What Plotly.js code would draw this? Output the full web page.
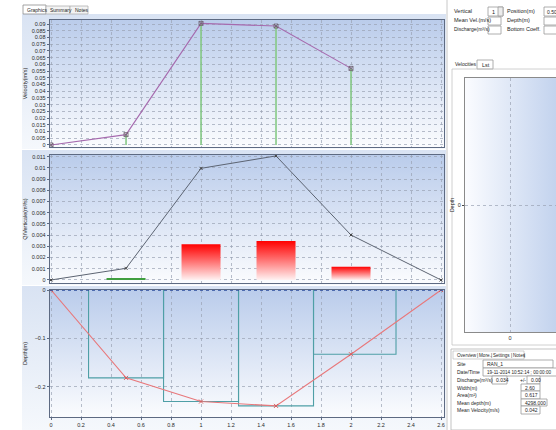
<!DOCTYPE html>
<html>
<head>
<meta charset="utf-8">
<script src="https://cdn.plot.ly/plotly-3.0.1.min.js"></script>
<style>
  html, body { margin: 0; padding: 0; background: #ffffff; }
  #gauging { width: 556px; height: 430px; }
</style>
</head>
<body>
<div id="gauging"></div>
<script>
// Cross-section stations (m) along the gauging line
const stations = [0, 0.5, 1.0, 1.5, 2.0, 2.6];
// Mean velocity at each vertical (m/s); the last vertical (bank) has no velocity reading
const velStations = [0, 0.5, 1.0, 1.5, 2.0];
const meanVelocity = [0, 0.0077, 0.0905, 0.0885, 0.057];
// Discharge per vertical (m³/s)
const verticalQ = [0, 0.00104, 0.00996, 0.01107, 0.00401, 0];
// Partial discharge of each panel (m³/s), centred on its vertical
const panelCentre = [0.5, 1.0, 1.5, 2.0];
const panelQ = [0.00018, 0.00318, 0.00348, 0.00119];
const panelColour = ['green', 'red', 'red', 'red'];
// Bed profile (m, negative downward)
const depth = [0, -0.182, -0.231, -0.240, -0.133, 0];
// Panel limits used for the mid-section computation
const panelLeft = [0.25, 0.75, 1.25, 1.75];
const panelRight = [0.75, 1.25, 1.75, 2.3];
const panelDepth = [-0.182, -0.231, -0.240, -0.133];
// Summary figures
const summaryLabels = ['Site', 'Date/Time', 'Discharge(m³/s)', 'Width(m)', 'Area(m²)', 'Mean depth(m)', 'Mean Velocity(m/s)'];
const summaryValues = ['RAN_1', '19-11-2014 10:52:14 ; 00:00:00', '0.034', '2.60', '0.617', '4298.000', '0.042'];
const dischargeUncertainty = '0.00';
const xTicks = [0, 0.2, 0.4, 0.6, 0.8, 1, 1.2, 1.4, 1.6, 1.8, 2, 2.2, 2.4, 2.6];

const W = 556, H = 430;
const fx = p => p / W;
const fy = p => 1 - p / H;
const FONT = 'Liberation Sans, Arial, sans-serif';
const UI_FONT = 'Liberation Sans Narrow, Liberation Sans, Arial, sans-serif';

// vertical gradient (top colour -> bottom colour) or horizontal (left -> right)
function gradient(c1, c2, horizontal) {
  const g = horizontal ? 'x1="0" y1="0" x2="1" y2="0"' : 'x1="0" y1="0" x2="0" y2="1"';
  const svg = '<svg xmlns="http://www.w3.org/2000/svg" width="100" height="100" viewBox="0 0 100 100" preserveAspectRatio="none">' +
    '<defs><linearGradient id="g" ' + g + '><stop offset="0" stop-color="' + c1 + '"/><stop offset="1" stop-color="' + c2 + '"/></linearGradient></defs>' +
    '<rect width="100" height="100" fill="url(#g)"/></svg>';
  return 'data:image/svg+xml;charset=utf-8,' + encodeURIComponent(svg);
}
function bgImage(x0, y0, x1, y1, c1, c2, horizontal) {
  return { source: gradient(c1, c2, horizontal), xref: 'paper', yref: 'paper',
    x: fx(x0), y: fy(y0), sizex: (x1 - x0) / W, sizey: (y1 - y0) / H,
    xanchor: 'left', yanchor: 'top', sizing: 'stretch', layer: 'below' };
}
function label(text, x, y, opts) {
  opts = opts || {};
  return { text: text, xref: 'paper', yref: 'paper', x: fx(x), y: fy(y),
    xanchor: opts.anchor || 'left', yanchor: 'middle', showarrow: false,
    font: { family: UI_FONT, size: opts.size || 5.5, color: opts.color || '#1e1e1e' } };
}
function box(x0, y0, x1, y1, fill, line) {
  return { type: 'rect', xref: 'paper', yref: 'paper', x0: fx(x0), x1: fx(x1), y0: fy(y0), y1: fy(y1),
    fillcolor: fill || '#ffffff', line: { color: line || '#9a9a9a', width: 0.8 }, layer: 'below' };
}

// plot-area pixel rectangles
const P1 = [50, 20, 444, 147];
const P2 = [50, 155, 444, 283];
const P3 = [50, 290, 444, 417];
const P4 = [465, 78, 556, 332];
const dom = p => ({ x: [fx(p[0]), fx(p[2])], y: [fy(p[3]), fy(p[1])] });

const traces = [];

// --- velocity panel ---
const gx = [], gy = [];
velStations.forEach((s, i) => { gx.push(s, s, null); gy.push(0, meanVelocity[i], null); });
traces.push({ x: gx, y: gy, mode: 'lines', line: { color: '#86c986', width: 1.6 }, xaxis: 'x', yaxis: 'y', hoverinfo: 'skip' });
traces.push({ x: velStations, y: meanVelocity, mode: 'lines+markers', xaxis: 'x', yaxis: 'y',
  line: { color: '#a66aae', width: 1.1 },
  marker: { symbol: 'square-x-open', size: 4, color: '#6a5a6a', line: { width: 0.8 } } });

// --- discharge panel: partial discharge bars ---
const halfW = 0.13;
panelCentre.forEach((c, i) => {
  const t = { x: [c - halfW, c - halfW, c + halfW, c + halfW, c - halfW],
    y: [0, panelQ[i], panelQ[i], 0, 0], mode: 'lines', fill: 'toself',
    line: { width: 0, color: 'rgba(0,0,0,0)' }, xaxis: 'x2', yaxis: 'y2', hoverinfo: 'skip' };
  if (panelColour[i] === 'red') {
    t.fillgradient = { type: 'vertical', colorscale: [[0, '#fff2f2'], [0.55, '#ff6a6a'], [1, '#ff0000']] };
  } else {
    t.fillcolor = '#3f9e3f';
  }
  traces.push(t);
});
traces.push({ x: stations, y: verticalQ, mode: 'lines+markers', xaxis: 'x2', yaxis: 'y2',
  line: { color: '#5c6472', width: 1 },
  marker: { symbol: 'x-thin-open', size: 3, color: '#444', line: { width: 1, color: '#444' } } });

// --- cross-section panel ---
const px = [], py = [];
panelLeft.forEach((l, i) => {
  px.push(l, l, panelRight[i], panelRight[i], null);
  py.push(0, panelDepth[i], panelDepth[i], 0, null);
});
traces.push({ x: px, y: py, mode: 'lines', xaxis: 'x3', yaxis: 'y3', line: { color: '#4f9fa6', width: 1.1 }, hoverinfo: 'skip' });
traces.push({ x: stations, y: depth, mode: 'lines+markers', xaxis: 'x3', yaxis: 'y3',
  line: { color: '#e8777a', width: 1.1 },
  marker: { symbol: 'x-thin-open', size: 4, color: '#d85a5a', line: { width: 1, color: '#d85a5a' } } });

// --- velocity profile box (empty) ---
traces.push({ x: [0], y: [0], mode: 'markers', marker: { size: 0.1, color: 'rgba(0,0,0,0)' }, xaxis: 'x4', yaxis: 'y4', hoverinfo: 'skip' });

const XR = [-0.007, 2.62];
const tickFont = { family: FONT, size: 5.5, color: '#2a2a2a' };
const titleFont = { family: FONT, size: 5.5, color: '#2a2a2a' };
const frame = { showline: true, mirror: true, linecolor: '#5d6a82', linewidth: 1.4, zeroline: false,
  showgrid: true, gridcolor: '#9aa3b3', griddash: 'dot', gridwidth: 0.7, tickfont: tickFont, fixedrange: true };

const d1 = dom(P1), d2 = dom(P2), d3 = dom(P3), d4 = dom(P4);
const layout = {
  width: W, height: H, margin: { l: 0, r: 0, t: 0, b: 0 },
  paper_bgcolor: '#ffffff', plot_bgcolor: 'rgba(0,0,0,0)', showlegend: false,
  font: { family: FONT },
  xaxis: Object.assign({}, frame, { domain: d1.x, range: XR, tickvals: xTicks, showticklabels: false, anchor: 'y' }),
  yaxis: Object.assign({}, frame, { domain: d1.y, range: [-0.0015, 0.093], dtick: 0.005, tick0: 0, ticks: 'outside', ticklen: 2, tickcolor: '#5d6a82', anchor: 'x',
    title: { text: 'Velocity(m/s)', font: titleFont, standoff: 4 } }),
  xaxis2: Object.assign({}, frame, { domain: d2.x, range: XR, tickvals: xTicks, showticklabels: false, anchor: 'y2' }),
  yaxis2: Object.assign({}, frame, { domain: d2.y, range: [-0.00027, 0.01115], dtick: 0.001, tick0: 0, ticks: 'outside', ticklen: 2, tickcolor: '#5d6a82', anchor: 'x2',
    title: { text: 'Q/Verticale(m³/s)', font: titleFont, standoff: 4 } }),
  xaxis3: Object.assign({}, frame, { domain: d3.x, range: XR, tickvals: xTicks, ticks: 'outside', ticklen: 2, tickcolor: '#5d6a82', anchor: 'y3' }),
  yaxis3: Object.assign({}, frame, { domain: d3.y, range: [-0.263, 0], dtick: 0.1, tick0: 0, ticks: 'outside', ticklen: 2, tickcolor: '#5d6a82', anchor: 'x3',
    title: { text: 'Depth(m)', font: titleFont, standoff: 6 } }),
  xaxis4: Object.assign({}, frame, { domain: d4.x, range: [-1, 1.02], tickvals: [0], linecolor: '#8a8a8a', linewidth: 1, anchor: 'y4' }),
  yaxis4: Object.assign({}, frame, { domain: d4.y, range: [-1, 1], tickvals: [0], linecolor: '#8a8a8a', linewidth: 1, anchor: 'x4',
    ticks: 'outside', ticklen: 2, title: { text: 'Depth', font: titleFont, standoff: 2 } }),
  images: [
    bgImage(22, 14, 446, 149, '#d9e3f3', '#f5f8fc'),
    bgImage(22, 150, 446, 285, '#d9e3f3', '#f5f8fc'),
    bgImage(22, 286, 446, 430, '#d9e3f3', '#f5f8fc'),
    bgImage(P1[0], P1[1], P1[2], P1[3], '#bacceb', '#fbfcfe'),
    bgImage(P2[0], P2[1], P2[2], P2[3], '#bacceb', '#fbfcfe'),
    bgImage(P3[0], P3[1], P3[2], P3[3], '#bacceb', '#fbfcfe'),
    bgImage(P4[0], P4[1], P4[2], P4[3], '#fbfcff', '#c3d3ee', true)
  ],
  shapes: [
    // tabs of the left pane
    box(23, 5, 46, 14, '#ffffff', '#8e8e8e'),
    box(46, 6, 70, 14, '#f3f3f3', '#b0b0b0'),
    box(70, 6, 88, 14, '#f3f3f3', '#b0b0b0'),
    // separator between panes
    { type: 'line', xref: 'paper', yref: 'paper', x0: fx(447), x1: fx(447), y0: fy(0), y1: fy(430), line: { color: '#c8c8c8', width: 1 } },
    // top-right entry boxes
    box(488, 7, 503, 16), box(498, 7, 503, 16, '#ececec', '#9a9a9a'),
    box(544, 7, 560, 16),
    box(488, 17, 501, 25), box(544, 17, 560, 25),
    box(488, 26, 501, 34), box(544, 26, 560, 34),
    // velocities/list tab and frame
    box(477, 60, 493, 69),
    box(452, 69, 560, 345, 'rgba(0,0,0,0)', '#c4c4c4'),
    // summary box
    box(451, 349, 560, 430, 'rgba(0,0,0,0)', '#b4b4b4'),
    box(453, 351, 524, 359, '#ffffff', '#c4c4c4'),
    box(483, 360, 553, 368), box(483, 368, 560, 376), box(492, 376, 507, 384), box(527, 376, 540, 384),
    box(521, 384, 540, 391), box(521, 391, 540, 399), box(521, 399, 547, 406), box(521, 406, 540, 414),
    // water level line on the cross-section
    { type: 'line', xref: 'x3 domain', yref: 'y3', x0: 0, x1: 1, y0: 0, y1: 0, line: { color: '#2c4c9c', width: 1.4, dash: 'dot' } }
  ],
  annotations: [
    label('Graphics', 24.5, 10, { size: 5 }), label('Summary', 47.5, 10, { size: 5 }), label('Notes', 72.5, 10, { size: 5 }),
    label('Vertical', 452, 11), label('1', 490, 11.5), label('Position(m)', 505, 11), label('0.50', 545, 11.5, { size: 5 }),
    label('Mean Vel.(m/s)', 452, 20), label('Depth(m)', 505, 20),
    label('Discharge(m³/s)', 452, 29, { size: 5 }), label('Bottom Coeff.', 505, 29),
    label('Velocities', 453, 64, { size: 5 }), label('Lst', 480, 65),
    label('Overview', 454.5, 355, { size: 4.6 }), label('|', 474.5, 355, { size: 4.6 }), label('More..', 476.5, 355, { size: 4.6 }),
    label('|', 489, 355, { size: 4.6 }), label('Settings', 491, 355, { size: 4.6 }), label('|', 508.5, 355, { size: 4.6 }),
    label('Notes', 510.5, 355, { size: 4.6 }), label('|', 522, 355, { size: 4.6 })
  ]
};

// summary rows
const rowY = [364, 372, 380, 387.5, 395, 402.5, 410];
const valueX = [485, 485, 494, 523, 523, 523, 523];
summaryLabels.forEach((t, i) => {
  layout.annotations.push(label(t, 455, rowY[i], { size: 5 }));
  layout.annotations.push(label(summaryValues[i], valueX[i], rowY[i], { size: i === 1 ? 4.6 : 5 }));
});
layout.annotations.push(label('+/-', 518, rowY[2], { size: 5 }));
layout.annotations.push(label(dischargeUncertainty, 529, rowY[2], { size: 5 }));

Plotly.newPlot('gauging', traces, layout, { displayModeBar: false, staticPlot: true });
</script>
</body>
</html>
